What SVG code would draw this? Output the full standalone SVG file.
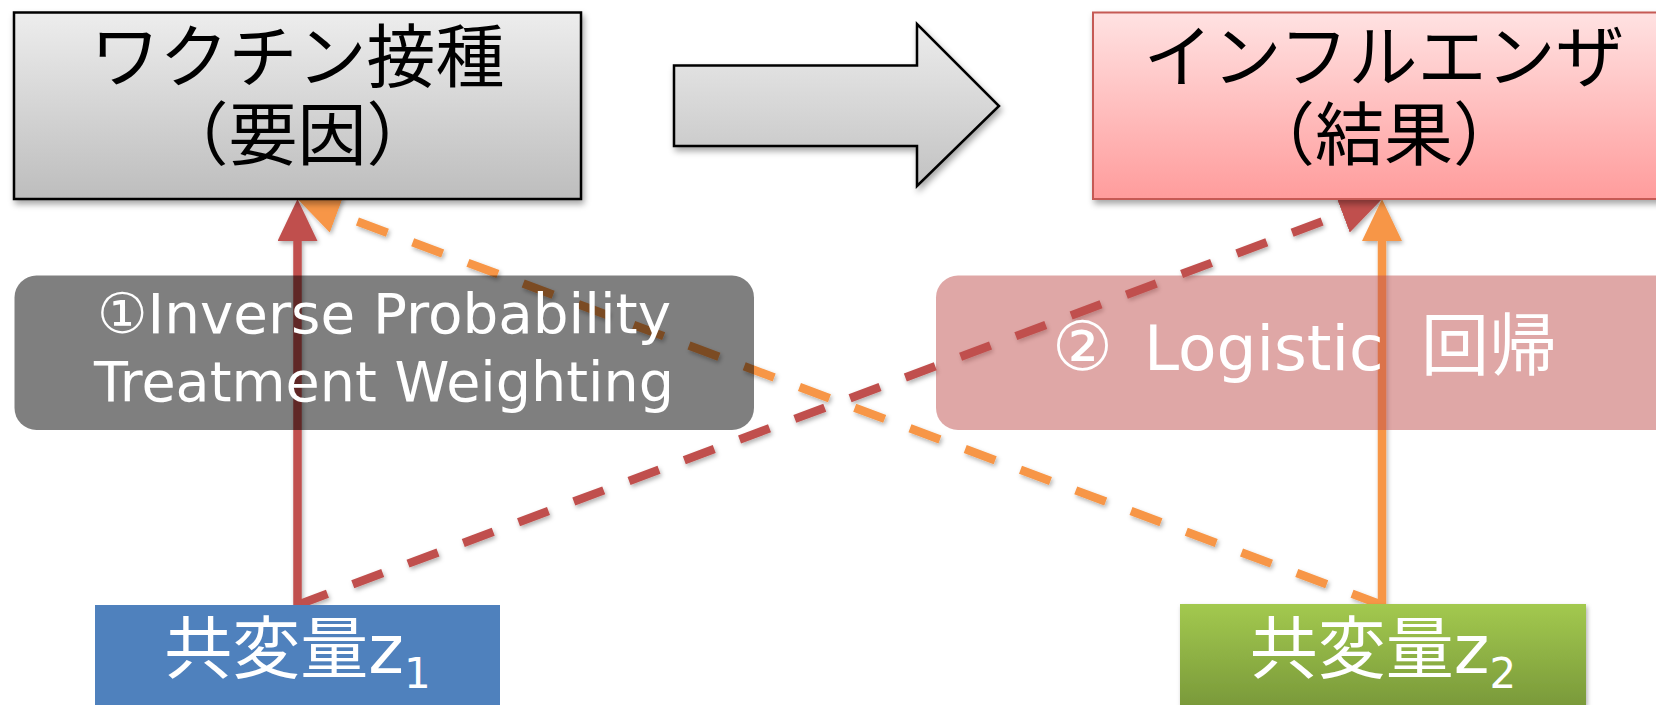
<svg xmlns="http://www.w3.org/2000/svg" width="1656" height="705" viewBox="0 0 1656 705">
<style>
  .t { font-family: "DejaVu Sans", "Noto Sans CJK JP", sans-serif; }
  .title { font-size: 69px; fill: #000; text-anchor: middle; }
  .wt { fill: #fff; }
  .lbl { font-size: 56px; text-anchor: middle; }
  .cov { font-size: 68px; text-anchor: middle; }
  .ln { fill: none; stroke-width: 8.5; }
  .red { stroke: #c0504d; }
  .org { stroke: #f79646; }
  .dash { stroke-dasharray: 32 27; }
</style>
<defs>
  <linearGradient id="gGray" x1="0" y1="0" x2="0" y2="1">
    <stop offset="0" stop-color="#ededed"/>
    <stop offset="1" stop-color="#bdbdbd"/>
  </linearGradient>
  <linearGradient id="gArrow" x1="0" y1="0" x2="0" y2="1">
    <stop offset="0" stop-color="#ececec"/>
    <stop offset="1" stop-color="#c2c2c2"/>
  </linearGradient>
  <linearGradient id="gPink" x1="0" y1="0" x2="0" y2="1">
    <stop offset="0" stop-color="#ffe2e2"/>
    <stop offset="1" stop-color="#ff9c9c"/>
  </linearGradient>
  <linearGradient id="gGreen" x1="0" y1="0" x2="0" y2="1">
    <stop offset="0" stop-color="#a3c94f"/>
    <stop offset="1" stop-color="#7a9a3a"/>
  </linearGradient>
  <filter id="sh" x="-10%" y="-10%" width="120%" height="130%">
    <feDropShadow dx="2" dy="4" stdDeviation="3" flood-color="#000" flood-opacity="0.35"/>
  </filter>
  <filter id="shl" x="-5%" y="-5%" width="110%" height="110%">
    <feDropShadow dx="1.5" dy="2.5" stdDeviation="2" flood-color="#000" flood-opacity="0.3"/>
  </filter>
  <marker id="mRed" markerUnits="userSpaceOnUse" markerWidth="42" markerHeight="40" viewBox="0 0 42 40" refX="0" refY="20" orient="auto">
    <path d="M0,0 L42,20 L0,40 Z" fill="#c0504d"/>
  </marker>
  <marker id="mOrg" markerUnits="userSpaceOnUse" markerWidth="42" markerHeight="40" viewBox="0 0 42 40" refX="0" refY="20" orient="auto">
    <path d="M0,0 L42,20 L0,40 Z" fill="#f79646"/>
  </marker>
</defs>
<rect width="1656" height="705" fill="#fff"/>

<g id="connectors" filter="url(#shl)">
  <line class="ln org dash" x1="1382" y1="605" x2="336.8" y2="213.8" marker-end="url(#mOrg)"/>
  <line class="ln red dash" x1="297.5" y1="605" x2="1342.7" y2="213.8" marker-end="url(#mRed)"/>
  <line class="ln org" x1="1382" y1="605" x2="1382" y2="241" marker-end="url(#mOrg)"/>
  <line class="ln red" x1="297.5" y1="605" x2="297.5" y2="241" marker-end="url(#mRed)"/>
</g>

<g id="vaccine">
  <rect x="14" y="12.5" width="567" height="186.5" fill="url(#gGray)" stroke="#000" stroke-width="2.5" filter="url(#sh)"/>
  <text class="t title" x="297.5" y="82">ワクチン接種</text>
  <text class="t title" x="297.5" y="160">（要因）</text>
</g>

<g id="big-arrow">
  <polygon points="674,65.5 917,65.5 917,24 999,106 917,186 917,146 674,146" fill="url(#gArrow)" stroke="#000" stroke-width="2.5" filter="url(#sh)"/>
</g>

<g id="influenza">
  <rect x="1093" y="12.5" width="580" height="186.5" fill="url(#gPink)" stroke="#c55a55" stroke-width="2" filter="url(#sh)"/>
  <text class="t title" x="1384" y="82">インフルエンザ</text>
  <text class="t title" x="1384" y="160">（結果）</text>
</g>

<g id="label-iptw">
  <rect x="14.5" y="275.5" width="739.5" height="154.5" rx="22" fill="#000" fill-opacity="0.5"/>
  <text class="t lbl wt" x="384" y="333" textLength="574" lengthAdjust="spacingAndGlyphs">①Inverse Probability</text>
  <text class="t lbl wt" x="384" y="401" textLength="580" lengthAdjust="spacingAndGlyphs">Treatment Weighting</text>
</g>

<g id="label-logistic">
  <rect x="936" y="275.5" width="740" height="154.5" rx="22" fill="#c0504d" fill-opacity="0.5"/>
  <text class="t wt" font-size="68" y="370"><tspan x="1052">②</tspan><tspan x="1144" font-size="63">Logistic</tspan><tspan x="1421">回帰</tspan></text>
</g>

<g id="covariate-z1">
  <rect x="95" y="605" width="405" height="100" fill="#4f81bd"/>
  <text class="t cov wt" x="297.5" y="673">共変量z<tspan dy="15" font-size="42">1</tspan></text>
</g>

<g id="covariate-z2">
  <rect x="1180" y="604" width="406" height="101" fill="url(#gGreen)" filter="url(#shl)"/>
  <text class="t cov wt" x="1383" y="673">共変量z<tspan dy="15" font-size="42">2</tspan></text>
</g>
</svg>
